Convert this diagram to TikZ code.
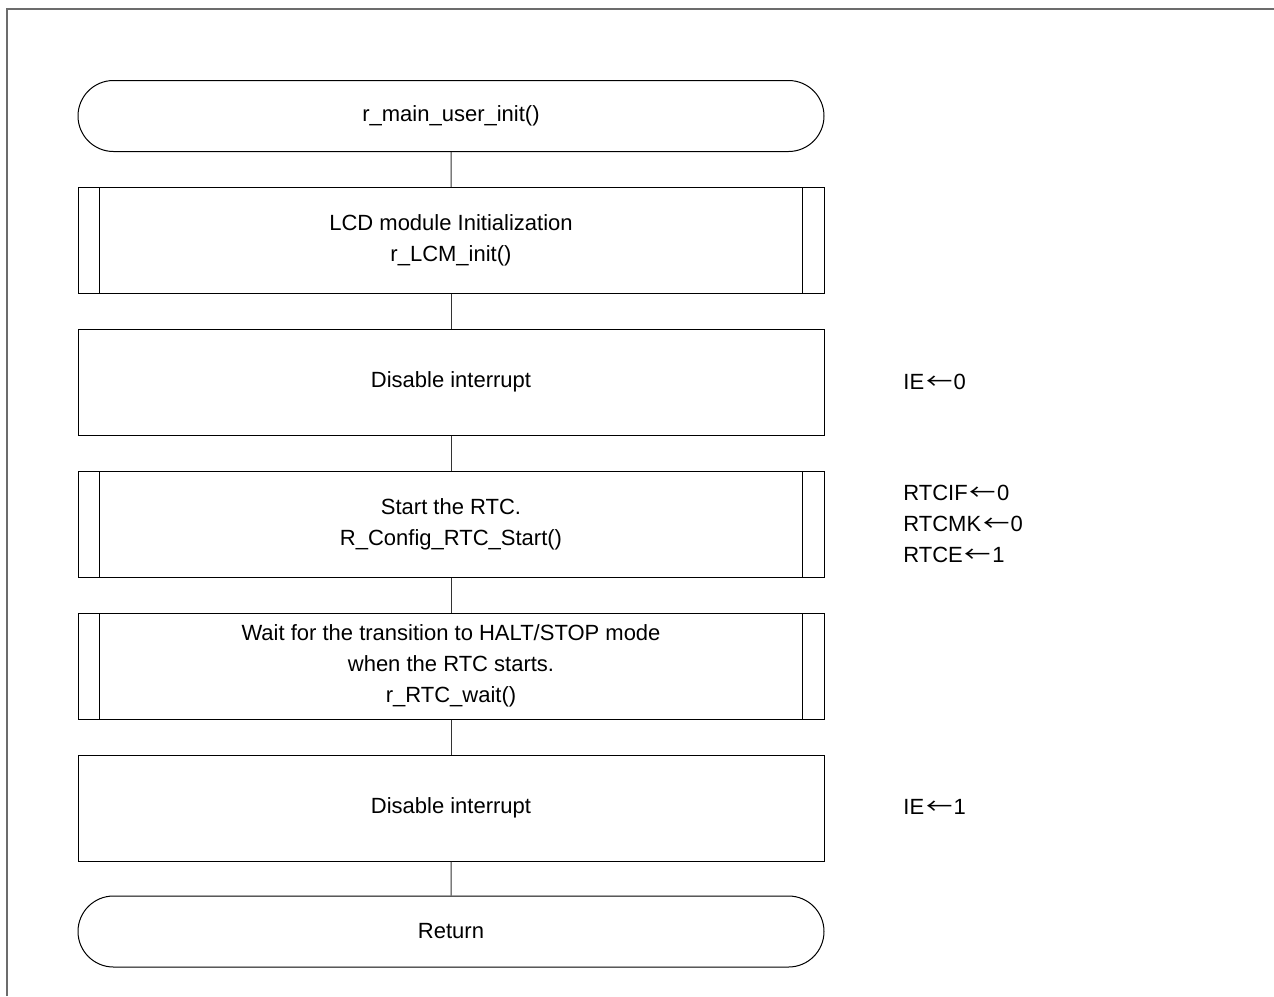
\documentclass[tikz,border=0pt]{standalone}
\usepackage{fontspec}
\setmainfont{Liberation Sans}
\newfontfamily\cjkarrow{Noto Sans CJK JP}
\newcommand{\larr}{\kern1pt\scalebox{1.2}[1]{\cjkarrow ←}\kern0.5pt}
\usetikzlibrary{shapes.misc}
\begin{document}
\begin{tikzpicture}[x=0.5pt,y=-0.5pt,
  every node/.style={font=\fontsize{11}{15.5}\selectfont},
  base/.style={draw=black,line width=0.5pt,minimum width=373pt,inner sep=0pt,align=center},
  proc/.style={base,rectangle,minimum height=53pt},
  predef/.style={proc,path picture={
     \draw[line width=0.5pt] ([xshift=10.75pt]path picture bounding box.north west) -- ([xshift=10.75pt]path picture bounding box.south west);
     \draw[line width=0.5pt] ([xshift=-10.75pt]path picture bounding box.north east) -- ([xshift=-10.75pt]path picture bounding box.south east);}},
  term/.style={base,rounded rectangle,minimum height=35.5pt},
  side/.style={anchor=west,align=left,inner sep=0pt},
  conn/.style={line width=0.5pt,draw=black!80}]
\useasboundingbox (0,0) rectangle (1274,996);
\fill[white] (0,0) rectangle (1274,996);
\draw[gray!85!black,line width=0.8pt] (7,996) -- (7,9) -- (1274,9);
\node[term] (t1) at (451,116) {r\_main\_user\_init()};
\node[predef] (b1) at (451,240.5) {LCD module Initialization\\r\_LCM\_init()};
\node[proc] (b2) at (451,382) {Disable interrupt};
\node[predef] (b3) at (451,524) {Start the RTC.\\R\_Config\_RTC\_Start()};
\node[predef] (b4) at (451,666) {Wait for the transition to HALT/STOP mode\\when the RTC starts.\\r\_RTC\_wait()};
\node[proc] (b5) at (451,808) {Disable interrupt};
\node[term] (t2) at (451,931.5) {Return};
\draw[conn] (t1) -- (b1);
\draw[conn] (b1) -- (b2);
\draw[conn] (b2) -- (b3);
\draw[conn] (b3) -- (b4);
\draw[conn] (b4) -- (b5);
\draw[conn] (b5) -- (t2);
\node[side] (s1) at (903,382) {IE\larr0};
\node[side] (s2) at (903,524) {RTCIF\larr0\\RTCMK\larr0\\RTCE\larr1};
\node[side] (s3) at (903,807) {IE\larr1};
\end{tikzpicture}
\end{document}
